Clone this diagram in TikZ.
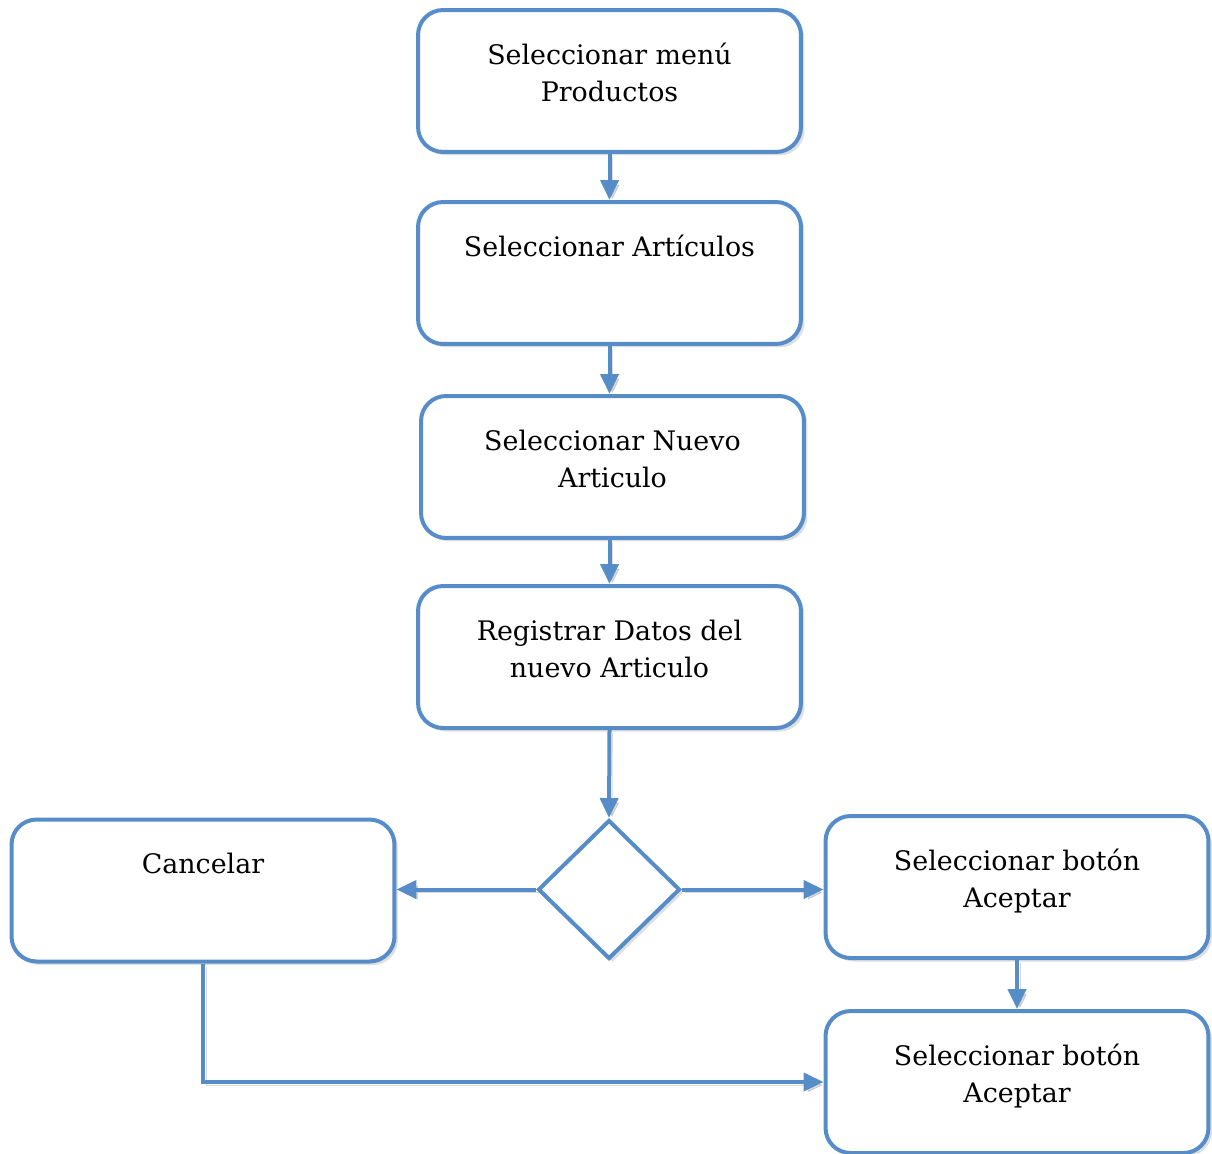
\documentclass[tikz,border=0pt]{standalone}
\usepackage{fontspec}
\setmainfont{DejaVu Serif}
\usetikzlibrary{shapes.geometric,arrows.meta,shadows}
\definecolor{azul}{RGB}{86,141,201}
\tikzset{
	caja/.style={draw=azul, line width=0.08cm, rounded corners=0.5cm, fill=white,
		minimum width=7.66cm, minimum height=2.84cm, inner sep=0pt,
		drop shadow={shadow xshift=0.07cm, shadow yshift=-0.07cm, opacity=0.25}},
	decision/.style={diamond, draw=azul, line width=0.08cm, fill=white,
		minimum width=2.84cm, minimum height=2.78cm, inner sep=0pt,
		drop shadow={shadow xshift=0.07cm, shadow yshift=-0.07cm, opacity=0.25}},
	flecha/.style={draw=azul, line width=0.08cm, -{Triangle[length=0.4cm,width=0.36cm]},
		preaction={draw=black, opacity=0.15, transform canvas={shift={(0.06cm,-0.06cm)}}}}
}
\newcommand{\texto}[1]{\parbox[c][2.84cm][t]{7.4cm}{\centering\fontsize{15.3}{21.6}\selectfont\rule{0pt}{1.08cm}#1}}

\begin{document}
\begin{tikzpicture}[x=0.02cm, y=-0.02cm]
	\useasboundingbox (0,0) rectangle (1212,1153);
	% main column
	\node[caja] (menu) at (609.5,81) {\texto{Seleccionar menú\\Productos}};
	\node[caja] (art) at (609.5,273) {\texto{Seleccionar Artículos}};
	\node[caja] (nuevo) at (612.5,467) {\texto{Seleccionar Nuevo\\Articulo}};
	\node[caja] (datos) at (609.5,657) {\texto{Registrar Datos del\\nuevo Articulo}};
	\node[decision] (dec) at (609,889.5) {};
	% branches
	\node[caja] (cancel) at (203,890.5) {\texto{Cancelar}};
	\node[caja] (acep1) at (1017,887) {\texto{Seleccionar botón\\Aceptar}};
	\node[caja] (acep2) at (1017,1082) {\texto{Seleccionar botón\\Aceptar}};
	% connectors
	\draw[flecha] (menu.south) -- (menu.south |- art.north);
	\draw[flecha] (art.south) -- (art.south |- nuevo.north);
	\draw[flecha] (datos.south |- nuevo.south) -- (datos.north);
	\draw[flecha] (datos.south) -- (dec.north);
	\draw[flecha] (dec.west) -- (dec.west -| cancel.east);
	\draw[flecha] (dec.east) -- (dec.east -| acep1.west);
	\draw[flecha] (acep1.south) -- (acep2.north);
	\draw[flecha] (cancel.south) |- (acep2.west);
\end{tikzpicture}
\end{document}
